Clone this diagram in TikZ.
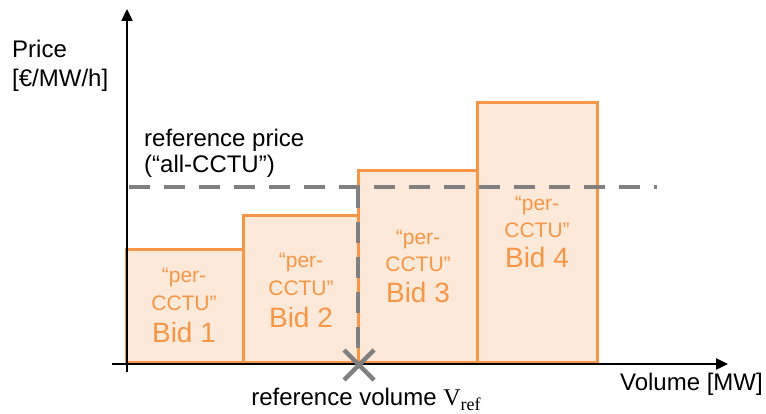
\documentclass[tikz,border=0pt]{standalone}
\usepackage{fontspec}
\setmainfont{Liberation Sans}
\newfontfamily\serifpart{Liberation Serif}
\usetikzlibrary{arrows.meta,calc}
\definecolor{bidline}{HTML}{F79646}
\definecolor{bidfill}{HTML}{FDE9D9}
\definecolor{refgray}{HTML}{808080}
\tikzset{
  axisline/.style={line width=2.4pt,-{Triangle[length=12pt,width=11pt]}},
  bidbox/.style={draw=bidline,fill=bidfill,line width=3pt},
  reflinestyle/.style={draw=refgray,line width=4pt,dash pattern=on 21pt off 14pt},
  small/.style={text=bidline,font=\fontsize{21}{24}\selectfont,inner sep=0pt,anchor=base},
  big/.style={text=bidline,font=\fontsize{28}{32}\selectfont,inner sep=0pt,anchor=base},
  lbl/.style={font=\fontsize{24}{28}\selectfont,inner sep=0pt},
}
\begin{document}
\begin{tikzpicture}[x=1pt,y=-1pt]
\useasboundingbox (0,0) rectangle (766,414);
% bars
\draw[bidbox] (126,362) rectangle (243,250);
\draw[bidbox] (243,362) rectangle (358,216);
\draw[bidbox] (358,362) rectangle (477,171);
\draw[bidbox] (477,362) rectangle (597,103);
% axes
\coordinate (xs) at (112,364);
\coordinate (xe) at (728,364);
\coordinate (ys) at (127,372);
\coordinate (ye) at (127,9);
\draw[axisline] (xs) -- (xe);
\draw[axisline] (ys) -- (ye);
% reference lines
\coordinate (hp1) at (129,187);
\coordinate (hp2) at (657,187);
\coordinate (vp1) at (358,187);
\coordinate (vp2) at (358,360);
\draw[reflinestyle] (hp1) -- (hp2);
\draw[reflinestyle] (vp1) -- (vp2);
% X mark
\coordinate (xm) at (359,365);
\draw[refgray,line width=4.5pt] ($(xm)+(-15,-15)$) -- ($(xm)+(15,15)$);
\draw[refgray,line width=4.5pt] ($(xm)+(-15,15)$) -- ($(xm)+(15,-15)$);
% bar labels
\node[small] (b1a) at (184,283) {“per-};
\node[small] (b1b) at (184,310) {CCTU”};
\node[big]   (b1c) at (184,342) {Bid 1};
\node[small] (b2a) at (301,268) {“per-};
\node[small] (b2b) at (301,295) {CCTU”};
\node[big]   (b2c) at (301,327) {Bid 2};
\node[small] (b3a) at (418,245) {“per-};
\node[small] (b3b) at (418,272) {CCTU”};
\node[big]   (b3c) at (418,302) {Bid 3};
\node[small] (b4a) at (537,211) {“per-};
\node[small] (b4b) at (537,238) {CCTU”};
\node[big]   (b4c) at (537,268) {Bid 4};
% axis labels
\node[lbl,anchor=base west] (pr1) at (12,58) {Price};
\node[lbl,anchor=base west] (pr2) at (12,87) {[€/MW/h]};
\node[lbl,anchor=base west] (rp1) at (144,147) {reference price};
\node[lbl,anchor=base west] (rp2) at (144,173) {(“all-CCTU”)};
\node[lbl,anchor=base] (rv) at (366,405) {reference volume {\serifpart V\raisebox{-5pt}{\fontsize{18}{20}\selectfont ref}}};
\node[lbl,anchor=base east] (vol) at (763,390) {Volume [MW]};
\end{tikzpicture}
\end{document}
